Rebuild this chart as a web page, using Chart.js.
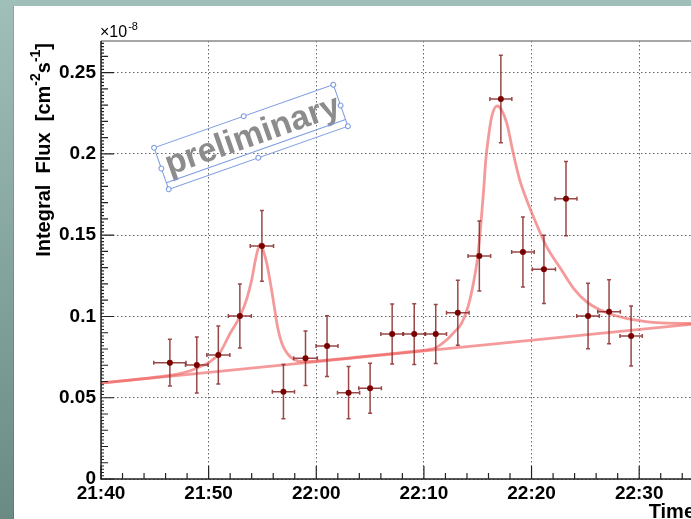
<!DOCTYPE html>
<html>
<head>
<meta charset="utf-8">
<script src="https://cdn.jsdelivr.net/npm/chart.js"></script>
<style>
  html, body { margin: 0; padding: 0; overflow: hidden; background: #8fb0aa; }
  canvas { display: block; }
</style>
</head>
<body>
<canvas id="lightCurve" width="720" height="519"></canvas>
<script>
// Time axis is in minutes after 21:40, flux in units of 1e-8 cm^-2 s^-1
const binTimes      = [6.4, 8.9, 10.9, 12.9, 14.95, 16.95, 19.0, 21.0, 23.0, 25.0, 27.05,
                       29.1, 31.1, 33.15, 35.15, 37.15, 39.2, 41.15, 43.2, 45.25, 47.2, 49.25];
const binHalfWidths = [1.5, 1.05, 1.07, 1.07, 1.08, 1.03, 1.1, 1.02, 1.03, 1.05, 1.05,
                       1.05, 1.0, 1.05, 1.05, 1.02, 1.05, 1.07, 1.02, 1.05, 1.05, 1.04];
const fluxValues    = [0.0716, 0.0701, 0.0763, 0.1003, 0.1434, 0.0537, 0.0743, 0.0818, 0.0531, 0.0558, 0.0892,
                       0.0892, 0.0892, 0.1023, 0.1372, 0.2338, 0.1397, 0.1290, 0.1725, 0.1003, 0.1029, 0.0880];
const fluxErrors    = [0.0144, 0.0172, 0.0179, 0.0197, 0.0218, 0.0167, 0.0167, 0.0187, 0.0161, 0.0154, 0.0185,
                       0.0187, 0.0181, 0.0200, 0.0215, 0.0269, 0.0215, 0.0210, 0.0228, 0.0202, 0.0197, 0.0185];

// fitted flare curve
const fitTimes  = [0, 3, 5.5, 7.4, 8.3, 9.2, 10.15, 11.1, 12.0, 12.9, 13.55, 14.0, 14.4, 14.8, 15.1, 15.4,
                   15.8, 16.1, 16.4, 16.8, 17.3, 17.9, 18.8, 21, 24, 27, 29, 30.3, 31.1, 32.1, 32.7, 33.5,
                   34.1, 34.6, 35.0, 35.3, 35.55, 35.75, 36.0, 36.3, 36.8, 37.2, 37.7, 38.3, 38.9, 39.55,
                   40.3, 41.4, 42.65, 43.9, 45.1, 46.4, 47.6, 48.8, 50.1, 51.6, 55];
const fitValues = [0.0592, 0.0611, 0.0630, 0.0650, 0.0666, 0.0691, 0.0722, 0.0783, 0.0897, 0.0999, 0.1110,
                   0.1225, 0.1365, 0.1446, 0.1400, 0.1327, 0.1183, 0.1060, 0.0937, 0.0835, 0.0773, 0.0737,
                   0.0722, 0.0732, 0.0751, 0.0771, 0.0785, 0.0795, 0.0808, 0.0855, 0.0896, 0.0958, 0.1060,
                   0.1204, 0.1368, 0.1573, 0.1778, 0.1963, 0.2106, 0.2230, 0.2295, 0.2272, 0.2189, 0.2004,
                   0.1840, 0.1717, 0.1594, 0.1430, 0.1300, 0.1173, 0.1091, 0.1040, 0.1009, 0.0989, 0.0974,
                   0.0962, 0.0957];

// linear baseline
const baseTimes  = [0, 55];
const baseValues = [0.0590, 0.0953];

const xTickLabels = ['21:40', '21:50', '22:00', '22:10', '22:20', '22:30'];
const yTickLabels = ['0', '0.05', '0.1', '0.15', '0.2', '0.25'];

const FONT = "'Liberation Sans', Arial, sans-serif";
Chart.defaults.font.family = FONT;

function toPoints(xs, ys) {
    return xs.map((x, i) => ({ x: x, y: ys[i] }));
}

// teal slide background with white panel
const backdrop = {
    id: 'backdrop',
    beforeDraw(chart) {
        const ctx = chart.ctx;
        const g = ctx.createLinearGradient(0, 0, 0, chart.height);
        g.addColorStop(0, '#a0bfb9');
        g.addColorStop(1, '#6a8a84');
        ctx.save();
        ctx.fillStyle = g;
        ctx.fillRect(0, 0, chart.width, chart.height);
        ctx.fillStyle = '#ffffff';
        ctx.fillRect(14, 6, chart.width - 14, chart.height - 6);
        ctx.fillStyle = 'rgba(0,0,0,0.12)';
        ctx.fillRect(13, 6, 1, chart.height - 6);
        ctx.restore();
    }
};

// error bars go under the markers
const errorBars = {
    id: 'errorBars',
    beforeDatasetDraw(chart, args) {
        if (args.index !== 0) return;
        const { ctx, scales: { x, y } } = chart;
        ctx.save();
        ctx.strokeStyle = 'rgba(135, 40, 40, 0.85)';
        ctx.lineWidth = 1.5;
        binTimes.forEach((t, i) => {
            const px = x.getPixelForValue(t);
            const py = y.getPixelForValue(fluxValues[i]);
            const x0 = x.getPixelForValue(t - binHalfWidths[i]);
            const x1 = x.getPixelForValue(t + binHalfWidths[i]);
            const y0 = y.getPixelForValue(fluxValues[i] - fluxErrors[i]);
            const y1 = y.getPixelForValue(fluxValues[i] + fluxErrors[i]);
            ctx.beginPath();
            ctx.moveTo(x0, py); ctx.lineTo(x1, py);
            ctx.moveTo(px, y0); ctx.lineTo(px, y1);
            ctx.moveTo(x0, py - 2); ctx.lineTo(x0, py + 2);
            ctx.moveTo(x1, py - 2); ctx.lineTo(x1, py + 2);
            ctx.moveTo(px - 2, y0); ctx.lineTo(px + 2, y0);
            ctx.moveTo(px - 2, y1); ctx.lineTo(px + 2, y1);
            ctx.stroke();
        });
        ctx.restore();
    }
};

// ROOT style frame with inward ticks
const rootAxes = {
    id: 'rootAxes',
    afterDraw(chart) {
        const { ctx, chartArea: a, scales: { x, y } } = chart;
        ctx.save();
        ctx.strokeStyle = '#888';
        ctx.lineWidth = 1.5;
        ctx.beginPath();
        ctx.moveTo(a.left, a.top); ctx.lineTo(a.right, a.top);
        ctx.stroke();

        ctx.strokeStyle = '#222';
        ctx.lineWidth = 1.5;
        ctx.beginPath();
        ctx.moveTo(a.left, a.top); ctx.lineTo(a.left, a.bottom); ctx.lineTo(a.right, a.bottom);
        ctx.stroke();

        ctx.lineWidth = 1.2;
        ctx.beginPath();
        for (let m = 0; m <= x.max; m += 2) {
            const px = x.getPixelForValue(m);
            const len = m % 10 === 0 ? 13 : 6;
            ctx.moveTo(px, a.bottom); ctx.lineTo(px, a.bottom - len);
        }
        for (let i = 0; i * 0.002 <= y.max; i++) {
            const py = y.getPixelForValue(i * 0.002);
            const len = i % 25 === 0 ? 13 : (i % 5 === 0 ? 7 : 3);
            ctx.moveTo(a.left, py); ctx.lineTo(a.left + len, py);
        }
        ctx.stroke();
        ctx.restore();
    }
};

// titles, exponent and the "preliminary" stamp
const labels = {
    id: 'labels',
    afterDraw(chart) {
        const { ctx, chartArea: a } = chart;
        ctx.save();
        ctx.fillStyle = '#000';

        // exponent
        ctx.textBaseline = 'alphabetic';
        ctx.textAlign = 'left';
        ctx.font = '16px ' + FONT;
        ctx.fillText('\u00d710', a.left - 1, a.top - 4);
        const w = ctx.measureText('\u00d710').width;
        ctx.font = '11px ' + FONT;
        ctx.fillText('-8', a.left - 1 + w + 1, a.top - 11);

        // x title
        ctx.font = 'bold 20px ' + FONT;
        ctx.textAlign = 'right';
        ctx.fillText('Time', a.right + 2, 518);

        // y title, rotated, right aligned to the top of the axis
        const parts = [
            { t: 'Integral  Flux  [cm', sup: false },
            { t: '-2', sup: true },
            { t: 's', sup: false },
            { t: '-1', sup: true },
            { t: ']', sup: false }
        ];
        const fontFor = p => (p.sup ? 'bold 14px ' : 'bold 20px ') + FONT;
        let total = 0;
        parts.forEach(p => { ctx.font = fontFor(p); total += ctx.measureText(p.t).width; });
        ctx.translate(50, a.top + 2);
        ctx.rotate(-Math.PI / 2);
        ctx.textAlign = 'left';
        let cx = -total;
        parts.forEach(p => {
            ctx.font = fontFor(p);
            ctx.fillText(p.t, cx, p.sup ? -10 : 0);
            cx += ctx.measureText(p.t).width;
        });
        ctx.setTransform(1, 0, 0, 1, 0, 0);

        // preliminary stamp with its selection box
        ctx.translate(251, 137);
        ctx.rotate(-19.4 * Math.PI / 180);
        ctx.fillStyle = '#8c8c8c';
        ctx.font = 'bold 34px ' + FONT;
        ctx.textAlign = 'center';
        ctx.textBaseline = 'alphabetic';
        ctx.fillText('preliminary', 2, 9);
        const bw = 95, bh = 22;
        ctx.strokeStyle = '#7d9be0';
        ctx.lineWidth = 1;
        ctx.strokeRect(-bw, -bh, bw * 2, bh * 2);
        ctx.beginPath();
        ctx.moveTo(-bw, bh - 7); ctx.lineTo(bw, bh - 7);
        ctx.stroke();
        const handles = [[-bw, -bh], [0, -bh], [bw, -bh], [bw, 0], [bw, bh], [0, bh], [-bw, bh], [-bw, 0]];
        handles.forEach(h => {
            ctx.beginPath();
            ctx.arc(h[0], h[1], 2.4, 0, Math.PI * 2);
            ctx.fillStyle = '#ffffff';
            ctx.fill();
            ctx.stroke();
        });
        ctx.restore();
    }
};

const ctx = document.getElementById('lightCurve').getContext('2d');

new Chart(ctx, {
    type: 'scatter',
    data: {
        datasets: [
            {
                label: 'data',
                data: toPoints(binTimes, fluxValues),
                pointRadius: 3,
                pointBackgroundColor: '#7a0000',
                pointBorderColor: '#7a0000',
                pointBorderWidth: 0,
                showLine: false,
                order: 0
            },
            {
                label: 'fit',
                data: toPoints(fitTimes, fitValues),
                showLine: true,
                pointRadius: 0,
                borderColor: 'rgba(240, 100, 100, 0.65)',
                borderWidth: 2.8,
                cubicInterpolationMode: 'monotone',
                order: 1
            },
            {
                label: 'baseline',
                data: toPoints(baseTimes, baseValues),
                showLine: true,
                pointRadius: 0,
                borderColor: 'rgba(240, 100, 100, 0.65)',
                borderWidth: 2.8,
                order: 2
            }
        ]
    },
    options: {
        responsive: false,
        animation: false,
        layout: { padding: { top: 41, right: 27, left: 0, bottom: 0 } },
        plugins: {
            legend: { display: false },
            tooltip: { enabled: false }
        },
        scales: {
            x: {
                type: 'linear',
                min: 0,
                max: 55,
                afterFit(scale) { scale.height = 40; },
                ticks: {
                    stepSize: 10,
                    includeBounds: false,
                    maxRotation: 0,
                    autoSkip: false,
                    padding: 3,
                    color: '#000',
                    font: { size: 19, weight: 'bold' },
                    callback: (v, i) => xTickLabels[i]
                },
                grid: { color: '#666', lineWidth: 1, drawTicks: false },
                border: { display: false, dash: [1.5, 2.5] }
            },
            y: {
                min: 0,
                max: 0.2695,
                afterFit(scale) { scale.width = 101; },
                ticks: {
                    stepSize: 0.05,
                    includeBounds: false,
                    autoSkip: false,
                    padding: 5,
                    color: '#000',
                    font: { size: 19, weight: 'bold' },
                    callback: (v, i) => yTickLabels[i]
                },
                grid: { color: '#666', lineWidth: 1, drawTicks: false },
                border: { display: false, dash: [1.5, 2.5] }
            }
        }
    },
    plugins: [backdrop, errorBars, rootAxes, labels]
});
</script>
</body>
</html>
